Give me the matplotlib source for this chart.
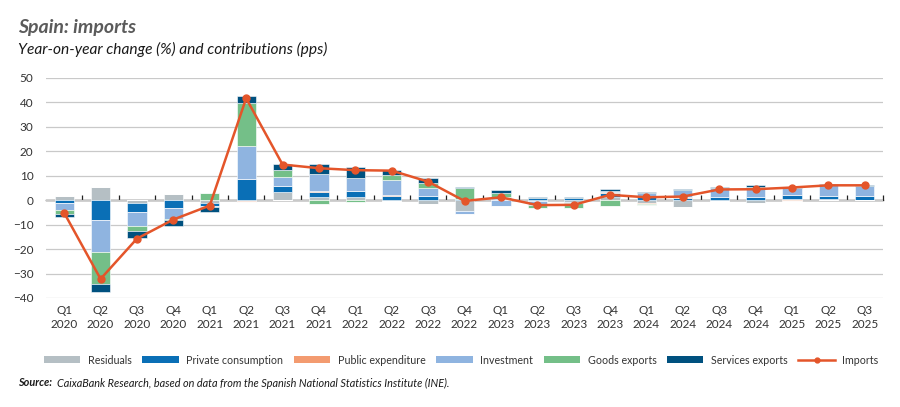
import matplotlib
matplotlib.use("Agg")
import matplotlib.pyplot as plt
import numpy as np
from matplotlib.patches import Patch
from matplotlib.lines import Line2D

plt.rcParams['font.family'] = ['Lato', 'DejaVu Sans']

quarters = ["Q1", "Q2", "Q3", "Q4"] * 5 + ["Q1", "Q2", "Q3"]
years = ["2020"] * 4 + ["2021"] * 4 + ["2022"] * 4 + ["2023"] * 4 + ["2024"] * 4 + ["2025"] * 3
tick_labels = [f"{q}\n{y}" for q, y in zip(quarters, years)]

residuals = [1.7, 5.6, -1.3, 2.5, -1.3, -0.3, 3.5, 1.2, 1.2, -0.3, -1.4, -4.6,
             0.4, -0.5, -0.7, 1.5, -1.2, -2.6, -0.5, -1.0, 0.3, 0.3, 0.2]
private_consumption = [-1.0, -7.9, -3.5, -3.0, -1.0, 8.6, 2.3, 2.3, 2.6, 1.9, 1.6, 0.5,
                       0.8, 1.0, 1.0, 1.6, 1.6, 1.1, 1.4, 1.4, 1.8, 1.4, 1.4]
public_expenditure = [0.1, -0.3, 0.1, 0.1, 0.1, -0.5, 0.1, 0.1, 0.1, 0.1, -0.2, 0.1,
                      0.1, 0.1, 0.1, 0.1, -0.2, 0.1, 0.1, -0.2, -0.2, 0.1, 0.1]
investment = [-3.0, -13.1, -5.6, -4.8, -0.3, 13.6, 3.8, 7.1, 5.2, 6.4, 3.3, -1.0,
              -2.5, -1.4, -0.5, 0.7, 1.4, 3.0, 3.3, 3.8, 3.0, 4.4, 4.0]
goods_exports = [-1.5, -12.8, -2.3, -0.4, 3.0, 17.5, 2.6, -1.4, -0.7, 1.8, 2.0, 4.2,
                 1.8, -1.4, -2.1, -2.2, -0.6, -0.3, 0.1, 0.2, 0.1, 0.2, 0.1]
services_exports = [-1.2, -3.5, -2.7, -2.2, -2.2, 3.1, 2.5, 4.2, 4.4, 2.3, 2.2, 0.7,
                    1.0, 0.4, 0.4, 0.8, 0.4, 0.4, 0.5, 0.7, 0.4, 0.3, 0.5]
imports = [-5.2, -32.2, -15.7, -7.9, -2.2, 41.7, 14.6, 13.1, 12.3, 12.1, 7.6, -0.3,
           1.2, -2.0, -1.9, 2.2, 1.2, 1.5, 4.4, 4.5, 5.2, 6.1, 6.1]

series_names = ["Residuals", "Private consumption", "Public expenditure",
                "Investment", "Goods exports", "Services exports"]
series_vals = [residuals, private_consumption, public_expenditure,
               investment, goods_exports, services_exports]
colors = ["#b5bfc4", "#0a6fb6", "#f39b70", "#8fb4e0", "#74bf88", "#00517f"]
line_color = "#e4552a"

fig = plt.figure(figsize=(9, 4.07), dpi=100)
ax = fig.add_axes([46 / 900, 1 - 298 / 407, (883 - 46) / 900, (298 - 78) / 407])

x = np.arange(len(tick_labels))
pos_base = np.zeros(len(x))
neg_base = np.zeros(len(x))
for name, vals, col in zip(series_names, series_vals, colors):
    v = np.array(vals)
    pos = np.where(v > 0, v, 0)
    neg = np.where(v < 0, v, 0)
    ax.bar(x, pos, bottom=pos_base, width=0.53, color=col, edgecolor="white",
           linewidth=0.4, zorder=2)
    ax.bar(x, neg, bottom=neg_base, width=0.53, color=col, edgecolor="white",
           linewidth=0.4, zorder=2)
    pos_base += pos
    neg_base += neg

ax.plot(x, imports, color=line_color, lw=1.8, marker="o", ms=5, zorder=4)

ax.set_xlim(-0.5, 22.5)
ax.set_ylim(-40, 50)
ax.set_yticks(np.arange(-40, 51, 10))
ax.grid(axis="y", color="#c9c9c9", lw=0.9)
ax.set_axisbelow(True)
for s in ax.spines.values():
    s.set_visible(False)
ax.tick_params(axis="y", length=0, pad=9, labelsize=8.5, labelcolor="#333333")
ax.set_xticks(x)
ax.set_xticklabels(tick_labels, linespacing=1.35)
ax.tick_params(axis="x", length=0, pad=5, labelsize=8.5, labelcolor="#333333")

# zero axis line with ticks between categories
zax = ax.secondary_xaxis(0, transform=ax.transData)
zax.spines["bottom"].set_color("#222222")
zax.spines["bottom"].set_linewidth(1.0)
zax.set_xticks(np.arange(0.5, 23, 1.0))
zax.set_xticklabels([])
zax.tick_params(axis="x", direction="in", length=3.5, width=0.9, color="#222222")

fig.text(18 / 900, 1 - 33 / 407, "Spain: imports", fontsize=14, fontweight="bold",
         style="italic", color="#5b5b5b", va="baseline", ha="left")
fig.text(18 / 900, 1 - 54 / 407, "Year-on-year change (%) and contributions (pps)",
         fontsize=11.2, style="italic", color="#1a1a1a", va="baseline", ha="left")

handles = [Patch(facecolor=c, edgecolor="none") for c in colors]
handles.append(Line2D([0], [0], color=line_color, lw=1.8, marker="o", ms=3.5))
labels = series_names + ["Imports"]
fig.legend(handles, labels, loc="center left", bbox_to_anchor=(44 / 900, 1 - 360 / 407),
           ncol=7, frameon=False, fontsize=7.7, handlelength=3.4, handleheight=0.55,
           handletextpad=0.7, columnspacing=1.0, borderpad=0, borderaxespad=0,
           labelcolor="#333333")

fig.text(18 / 900, 1 - 383 / 407, r"Source:", fontsize=7.8, fontweight="bold",
         style="italic", color="#1a1a1a", va="center", ha="left")
fig.text(57 / 900, 1 - 383 / 407,
         "CaixaBank Research, based on data from the Spanish National Statistics Institute (INE).",
         fontsize=7.8, style="italic", color="#1a1a1a", va="center", ha="left")

fig.savefig("out.png", dpi=100)
